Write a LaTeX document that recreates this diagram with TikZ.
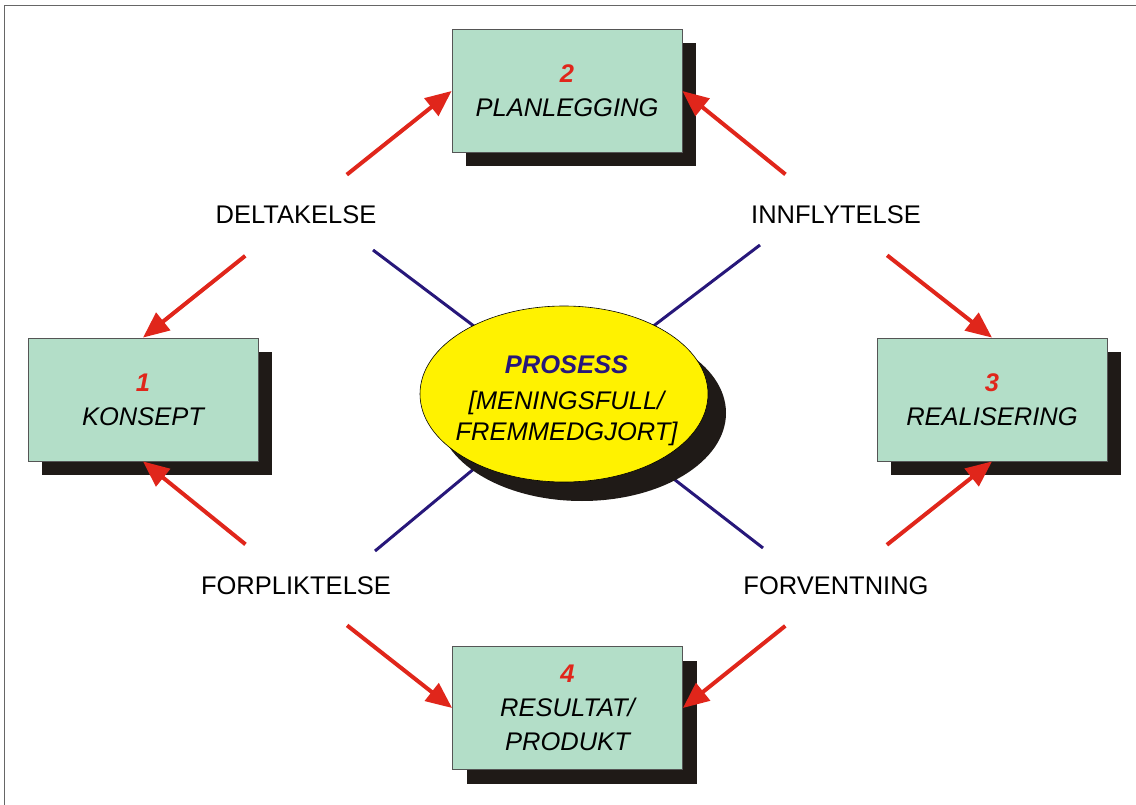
\documentclass[tikz,border=0pt]{standalone}
\usepackage{fontspec}
\setmainfont{Liberation Sans}
\usetikzlibrary{arrows.meta,shapes.geometric,shadows,backgrounds}
\definecolor{mint}{HTML}{B3DEC8}
\definecolor{shade}{HTML}{1F1A17}
\definecolor{arrowred}{HTML}{E0261B}
\definecolor{navy}{HTML}{27177A}
\definecolor{framegray}{HTML}{666666}
\definecolor{boxedge}{HTML}{555555}

\begin{document}
\begin{tikzpicture}[x=1pt,y=-1pt,
  stage/.style={draw=boxedge, line width=0.8pt, fill=mint,
    minimum width=230pt, minimum height=123pt, inner sep=0pt, align=center,
    font=\fontsize{25.5}{34}\selectfont\itshape,
    drop shadow={shadow xshift=14pt, shadow yshift=-14pt, opacity=1, fill=shade}},
  factor/.style={font=\fontsize{25.5}{30}\selectfont, inner sep=0pt, anchor=base},
  flow/.style={draw=arrowred, line width=4pt,
    -{Triangle[length=26pt,width=22pt]}, shorten <=65pt},
  spoke/.style={draw=navy, line width=3pt},
]
\useasboundingbox (0,0) rectangle (1136,805);

% partial outer frame
\draw[framegray, line width=1.5pt] (4.5,805) -- (4.5,5.5) -- (1136,5.5);

% central process ellipse
\node[ellipse, draw=black, line width=0.6pt, fill=yellow,
  minimum width=288pt, minimum height=176pt, inner sep=0pt,
  drop shadow={shadow xshift=18pt, shadow yshift=-19pt, opacity=1, fill=shade}]
  (proc) at (564,394) {};
\node[font=\fontsize{25.5}{31}\selectfont\itshape, align=center, inner sep=0pt]
  (proctext) at (566.5,401)
  {{\bfseries\color{navy}PROSESS}\\[5pt]{[}MENINGSFULL/\\FREMMEDGJORT]};

% phase boxes
\node[stage] (b2) at (567,91)
  {{\bfseries\color{arrowred}2}\\PLANLEGGING};
\node[stage] (b1) at (143,399.5)
  {{\bfseries\color{arrowred}1}\\KONSEPT};
\node[stage] (b3) at (992,399.5)
  {{\bfseries\color{arrowred}3}\\REALISERING};
\node[stage] (b4) at (567.5,708)
  {{\bfseries\color{arrowred}4}\\RESULTAT/\\PRODUKT};

% factor labels
\node[factor] (deltak) at (296,224) {DELTAKELSE};
\node[factor] (innfl)  at (836,224) {INNFLYTELSE};
\node[factor] (forpl)  at (296,594) {FORPLIKTELSE};
\node[factor] (forv)   at (836,594) {FORVENTNING};

% free ends of the spokes
\coordinate (sNW) at (373,250);
\coordinate (sNE) at (760,245);
\coordinate (sSW) at (375,551);
\coordinate (sSE) at (763,548);

\begin{scope}[on background layer]
  \draw[spoke] (proc.center) -- (sNW);
  \draw[spoke] (proc.center) -- (sNE);
  \draw[spoke] (proc.center) -- (sSW);
  \draw[spoke] (proc.center) -- (sSE);
\end{scope}

% red flow arrows
\draw[flow] (deltak.center) -- (b2.west);
\draw[flow] (deltak.center) -- (b1.north);
\draw[flow] (innfl.center) -- (b2.east);
\draw[flow] (innfl.center) -- (b3.north);
\draw[flow] (forpl.center) -- (b1.south);
\draw[flow] (forpl.center) -- (b4.west);
\draw[flow] (forv.center) -- (b3.south);
\draw[flow] (forv.center) -- (b4.east);
\end{tikzpicture}
\end{document}
